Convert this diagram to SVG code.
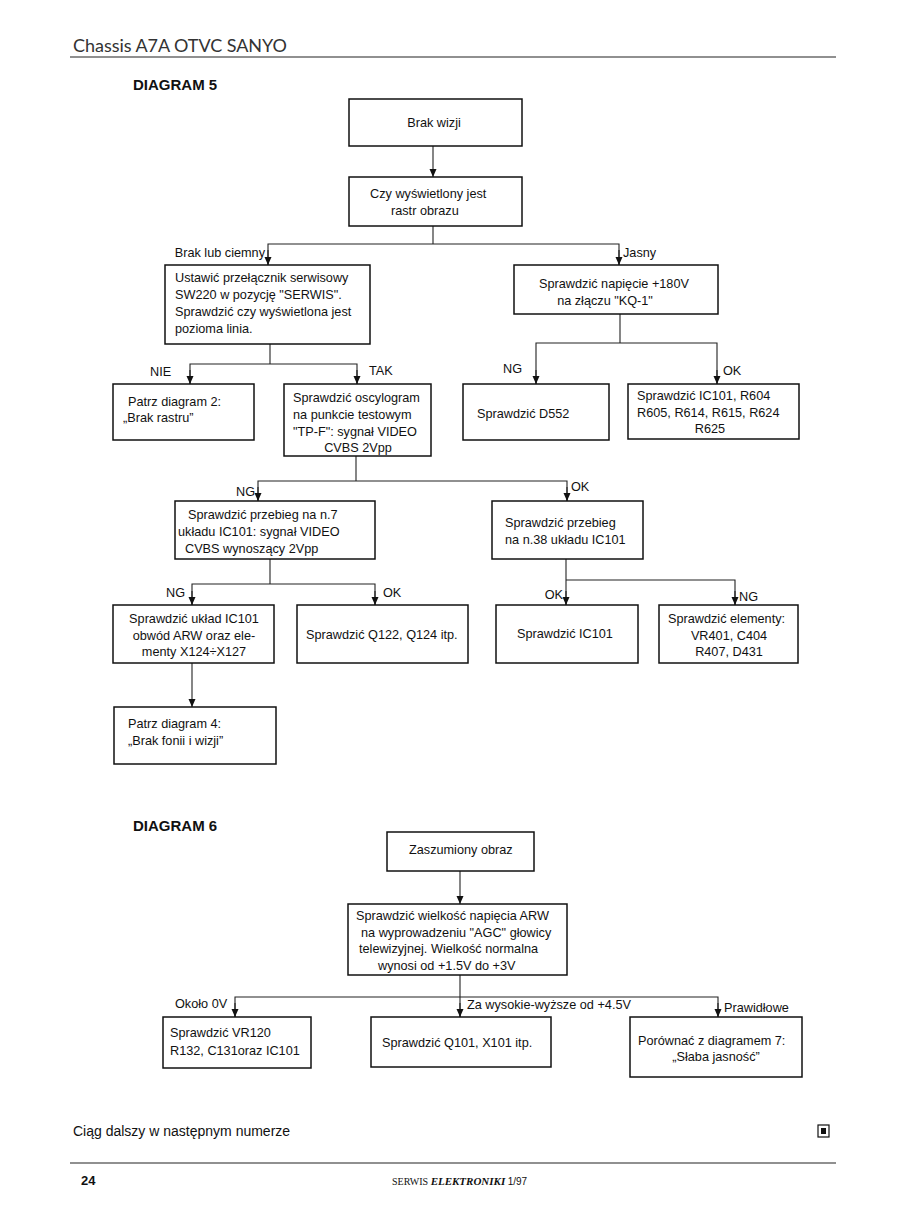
<svg xmlns="http://www.w3.org/2000/svg" width="918" height="1218" viewBox="0 0 918 1218">
<style>
.bg{fill:#fff}
.box{fill:#fff;stroke:#111;stroke-width:1.5}
.ln{fill:none;stroke:#222;stroke-width:1.1}
.t{font-family:"Liberation Sans",Arial,sans-serif;font-size:12.7px;fill:#111}
.m{text-anchor:middle}
.h{font-family:"Liberation Sans",Arial,sans-serif;font-size:15px;font-weight:bold;fill:#111}
.rule{stroke:#222;stroke-width:1.2}
</style>
<defs>
<marker id="ar" viewBox="0 0 8 10" refX="8" refY="5" markerWidth="8" markerHeight="10" markerUnits="userSpaceOnUse" orient="auto">
<path d="M0,1.5 L8,5 L0,8.5 Z" fill="#111"/>
</marker>
</defs>
<rect class="bg" x="0" y="0" width="918" height="1218"/>

<text x="73" y="52" style="font-family:Lato,'Open Sans',sans-serif;font-size:18px;fill:#333" textLength="214">Chassis A7A OTVC SANYO</text>
<line class="rule" x1="70" y1="57" x2="836" y2="57"/>
<text class="h" x="133" y="90">DIAGRAM 5</text>

<g id="connectors">
<line class="ln" x1="433" y1="146" x2="433" y2="177" marker-end="url(#ar)"/>
<polyline class="ln" points="433,226 433,244"/>
<polyline class="ln" points="268,265 268,244 619,244 619,265" />
<line class="ln" x1="268" y1="250" x2="268" y2="265" marker-end="url(#ar)"/>
<line class="ln" x1="619" y1="250" x2="619" y2="265" marker-end="url(#ar)"/>

<polyline class="ln" points="270,344 270,364"/>
<polyline class="ln" points="190,384 190,364 357,364 357,384"/>
<line class="ln" x1="190" y1="370" x2="190" y2="384" marker-end="url(#ar)"/>
<line class="ln" x1="357" y1="370" x2="357" y2="384" marker-end="url(#ar)"/>

<polyline class="ln" points="620,314 620,343"/>
<polyline class="ln" points="536,384 536,343 717,343 717,384"/>
<line class="ln" x1="536" y1="370" x2="536" y2="384" marker-end="url(#ar)"/>
<line class="ln" x1="717" y1="370" x2="717" y2="384" marker-end="url(#ar)"/>

<polyline class="ln" points="356,456 356,481"/>
<polyline class="ln" points="258,501 258,481 567,481 567,501"/>
<line class="ln" x1="258" y1="487" x2="258" y2="501" marker-end="url(#ar)"/>
<line class="ln" x1="567" y1="487" x2="567" y2="501" marker-end="url(#ar)"/>

<polyline class="ln" points="270,559 270,584"/>
<polyline class="ln" points="192,605 192,584 375,584 375,605"/>
<line class="ln" x1="192" y1="591" x2="192" y2="605" marker-end="url(#ar)"/>
<line class="ln" x1="375" y1="591" x2="375" y2="605" marker-end="url(#ar)"/>

<polyline class="ln" points="566,559 566,605"/>
<polyline class="ln" points="566,580 735,580 735,605"/>
<line class="ln" x1="566" y1="591" x2="566" y2="605" marker-end="url(#ar)"/>
<line class="ln" x1="735" y1="591" x2="735" y2="605" marker-end="url(#ar)"/>

<line class="ln" x1="192" y1="663" x2="192" y2="707" marker-end="url(#ar)"/>

<line class="ln" x1="460" y1="871" x2="460" y2="904" marker-end="url(#ar)"/>
<polyline class="ln" points="460,975 460,1017"/>
<polyline class="ln" points="235,1017 235,997 718,997 718,1017"/>
<line class="ln" x1="235" y1="1003" x2="235" y2="1017" marker-end="url(#ar)"/>
<line class="ln" x1="460" y1="1003" x2="460" y2="1017" marker-end="url(#ar)"/>
<line class="ln" x1="718" y1="1003" x2="718" y2="1017" marker-end="url(#ar)"/>
</g>

<g id="labels">
<text class="t" x="265" y="257" text-anchor="end">Brak lub ciemny</text>
<text class="t" x="623" y="257">Jasny</text>
<text class="t" x="150" y="376">NIE</text>
<text class="t" x="369" y="375">TAK</text>
<text class="t" x="503" y="373">NG</text>
<text class="t" x="723" y="375">OK</text>
<text class="t" x="255" y="496" text-anchor="end">NG</text>
<text class="t" x="571" y="491">OK</text>
<text class="t" x="166" y="597">NG</text>
<text class="t" x="383" y="597">OK</text>
<text class="t" x="563" y="599" text-anchor="end">OK</text>
<text class="t" x="739" y="601">NG</text>
<text class="t" x="175" y="1008">Około 0V</text>
<text class="t" x="467" y="1009">Za wysokie-wyższe od +4.5V</text>
<text class="t" x="724" y="1012">Prawidłowe</text>
</g>

<g id="n1"><rect class="box" x="349" y="99" width="173" height="47"/><text class="t m" x="434" y="127">Brak wizji</text></g>
<g id="n2"><rect class="box" x="349" y="177" width="173" height="49"/>
<text class="t" x="370" y="198">Czy wyświetlony jest</text><text class="t" x="391" y="215">rastr obrazu</text></g>
<g id="n3"><rect class="box" x="165" y="265" width="205" height="79"/>
<text class="t" x="175" y="282">Ustawić przełącznik serwisowy</text>
<text class="t" x="175" y="299">SW220 w pozycję "SERWIS".</text>
<text class="t" x="175" y="316">Sprawdzić czy wyświetlona jest</text>
<text class="t" x="175" y="333">pozioma linia.</text></g>
<g id="n4"><rect class="box" x="514" y="265" width="204" height="49"/>
<text class="t m" x="614" y="288">Sprawdzić napięcie +180V</text>
<text class="t m" x="605" y="305">na złączu "KQ-1"</text></g>
<g id="n5"><rect class="box" x="113" y="384" width="141" height="56"/>
<text class="t" x="128" y="406">Patrz diagram 2:</text>
<text class="t" x="123" y="422">„Brak rastru”</text></g>
<g id="n6"><rect class="box" x="284" y="384" width="147" height="72"/>
<text class="t" x="293" y="402">Sprawdzić oscylogram</text>
<text class="t" x="293" y="419">na punkcie testowym</text>
<text class="t" x="293" y="436">"TP-F": sygnał VIDEO</text>
<text class="t m" x="358" y="452">CVBS 2Vpp</text></g>
<g id="n7"><rect class="box" x="463" y="384" width="146" height="56"/>
<text class="t" x="477" y="418">Sprawdzić D552</text></g>
<g id="n8"><rect class="box" x="628" y="384" width="171" height="55"/>
<text class="t" x="637" y="400">Sprawdzić IC101, R604</text>
<text class="t" x="637" y="417">R605, R614, R615, R624</text>
<text class="t m" x="710" y="433">R625</text></g>
<g id="n9"><rect class="box" x="175" y="501" width="200" height="58"/>
<text class="t" x="188" y="519">Sprawdzić przebieg na n.7</text>
<text class="t" x="178" y="536">układu IC101: sygnał VIDEO</text>
<text class="t" x="185" y="553">CVBS wynoszący 2Vpp</text></g>
<g id="n10"><rect class="box" x="492" y="501" width="151" height="58"/>
<text class="t" x="505" y="527">Sprawdzić przebieg</text>
<text class="t" x="505" y="544">na n.38 układu IC101</text></g>
<g id="n11"><rect class="box" x="113" y="605" width="161" height="58"/>
<text class="t m" x="194" y="623">Sprawdzić układ IC101</text>
<text class="t m" x="194" y="640">obwód ARW oraz ele-</text>
<text class="t m" x="194" y="656">menty X124÷X127</text></g>
<g id="n12"><rect class="box" x="297" y="605" width="171" height="58"/>
<text class="t" x="306" y="639">Sprawdzić Q122, Q124 itp.</text></g>
<g id="n13"><rect class="box" x="496" y="605" width="142" height="58"/>
<text class="t" x="517" y="638">Sprawdzić IC101</text></g>
<g id="n14"><rect class="box" x="659" y="605" width="139" height="58"/>
<text class="t" x="668" y="623">Sprawdzić elementy:</text>
<text class="t m" x="729" y="640">VR401, C404</text>
<text class="t m" x="729" y="656">R407, D431</text></g>
<g id="n15"><rect class="box" x="114" y="707" width="162" height="57"/>
<text class="t" x="128" y="728">Patrz diagram 4:</text>
<text class="t" x="128" y="745">„Brak fonii i wizji”</text></g>

<text class="h" x="133" y="831">DIAGRAM 6</text>

<g id="n16"><rect class="box" x="387" y="832" width="147" height="39"/>
<text class="t" x="409" y="854">Zaszumiony obraz</text></g>
<g id="n17"><rect class="box" x="348" y="904" width="219" height="71"/>
<text class="t" x="356" y="920">Sprawdzić wielkość napięcia ARW</text>
<text class="t" x="361" y="937">na wyprowadzeniu "AGC" głowicy</text>
<text class="t" x="359" y="953">telewizyjnej. Wielkość normalna</text>
<text class="t" x="378" y="970">wynosi od +1.5V do +3V</text></g>
<g id="n18"><rect class="box" x="163" y="1017" width="148" height="51"/>
<text class="t" x="170" y="1037">Sprawdzić VR120</text>
<text class="t" x="170" y="1055">R132, C131oraz IC101</text></g>
<g id="n19"><rect class="box" x="371" y="1017" width="180" height="50"/>
<text class="t" x="382" y="1047">Sprawdzić Q101, X101 itp.</text></g>
<g id="n20"><rect class="box" x="630" y="1017" width="172" height="60"/>
<text class="t" x="638" y="1045">Porównać z diagramem 7:</text>
<text class="t m" x="716" y="1061">„Słaba jasność”</text></g>

<text x="73" y="1136" style="font-family:'Liberation Sans',Arial,sans-serif;font-size:14px;fill:#111">Ciąg dalszy w następnym numerze</text>
<rect x="818" y="1125" width="11" height="12" fill="none" stroke="#111" stroke-width="1.2"/>
<rect x="821" y="1128" width="5" height="6" fill="#111"/>
<line class="rule" x1="70" y1="1163" x2="836" y2="1163"/>
<text x="81" y="1185" style="font-family:'Liberation Sans',Arial,sans-serif;font-size:13px;font-weight:bold;fill:#111">24</text>
<text x="392" y="1185" style="font-family:'Liberation Serif','Times New Roman',serif;font-size:10px;fill:#111">SERWIS <tspan style="font-weight:bold;font-style:italic;font-size:11px">ELEKTRONIKI</tspan>  <tspan style="font-family:'Liberation Sans',Arial,sans-serif;font-size:10px">1/97</tspan></text>
</svg>
